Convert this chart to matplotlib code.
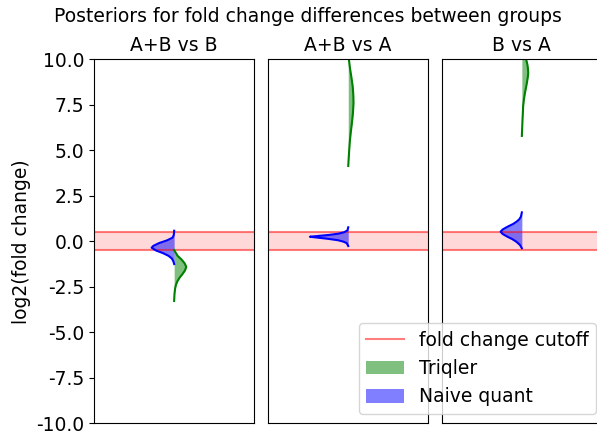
import matplotlib
matplotlib.use("Agg")
import matplotlib.pyplot as plt
import matplotlib.patches as mpatches
from matplotlib.lines import Line2D

plt.rcParams['axes.unicode_minus'] = False
plt.rcParams['font.size'] = 13.5

titles = ['A+B vs B', 'A+B vs A', 'B vs A']
cutoff = 0.5

# posterior densities: (log2 fold change, density)
triqler_y = [
    [-0.48, -0.6, -0.8, -1.0, -1.2, -1.4, -1.6, -1.8, -2.0, -2.2, -2.4, -2.6, -2.9, -3.28],
    [4.14, 4.6, 5.0, 5.5, 6.0, 6.5, 7.0, 7.58, 8.0, 8.5, 9.0, 9.5, 10.0, 10.3],
    [5.79, 6.2, 6.66, 7.0, 7.4, 7.8, 8.13, 8.4, 8.68, 9.0, 9.23, 9.5, 9.7, 10.0, 10.3],
]
triqler_dens = [
    [0.0, 0.08, 0.22, 0.46, 0.65, 0.76, 0.68, 0.52, 0.34, 0.2, 0.11, 0.06, 0.02, 0.0],
    [0.0, 0.03, 0.06, 0.1, 0.16, 0.23, 0.29, 0.33, 0.32, 0.28, 0.2, 0.11, 0.04, 0.0],
    [0.0, 0.02, 0.04, 0.06, 0.08, 0.13, 0.19, 0.25, 0.31, 0.37, 0.40, 0.38, 0.35, 0.27, 0.18],
]
naive_y = [
    [0.58, 0.35, 0.2, 0.05, -0.1, -0.25, -0.35, -0.5, -0.65, -0.8, -0.95, -1.1, -1.25],
    [0.77, 0.6, 0.5, 0.42, 0.35, 0.3, 0.25, 0.2, 0.14, 0.06, -0.02, -0.1, -0.26],
    [1.59, 1.35, 1.2, 1.08, 0.95, 0.8, 0.65, 0.53, 0.4, 0.25, 0.12, -0.02, -0.2, -0.38],
]
naive_dens = [
    [0.0, 0.02, 0.1, 0.45, 0.95, 1.3, 1.41, 1.15, 0.7, 0.35, 0.14, 0.05, 0.0],
    [0.0, 0.05, 0.25, 0.6, 1.2, 1.8, 2.4, 1.9, 1.3, 0.65, 0.3, 0.1, 0.0],
    [0.0, 0.06, 0.17, 0.33, 0.55, 0.9, 1.2, 1.33, 1.2, 0.9, 0.6, 0.35, 0.12, 0.0],
]
yticks = [-10.0, -7.5, -5.0, -2.5, 0.0, 2.5, 5.0, 7.5, 10.0]

W, H = 597, 433
fig = plt.figure(figsize=(W / 100, H / 100), dpi=100)
lefts = [94.3, 268.4, 442.0]
axw = 159.7
bottom = (H - 423.3) / H
height = (423.3 - 59.3) / H

axes = []
for i in range(3):
    ax = fig.add_axes([lefts[i] / W, bottom, axw / W, height])
    axes.append(ax)
    ax.axhspan(-cutoff, cutoff, color='red', alpha=0.15, lw=0)
    ax.axhline(cutoff, color='red', alpha=0.5, lw=1.5)
    ax.axhline(-cutoff, color='red', alpha=0.5, lw=1.5)

    ty, td = triqler_y[i], triqler_dens[i]
    ax.fill_betweenx(ty, 0, td, color='green', alpha=0.5, lw=0)
    ax.plot(td, ty, color='green', lw=1.5)

    ny, nd = naive_y[i], [-d for d in naive_dens[i]]
    ax.fill_betweenx(ny, 0, nd, color='blue', alpha=0.5, lw=0)
    ax.plot(nd, ny, color='blue', lw=1.5)

    ax.set_xlim(-5, 5)
    ax.set_ylim(-10, 10)
    ax.set_xticks([])
    ax.set_title(titles[i], fontsize=13.5)
    if i == 0:
        ax.set_yticks(yticks)
        ax.set_yticklabels(['%.1f' % v for v in yticks])
        ax.set_ylabel('log2(fold change)')
    else:
        ax.set_yticks([])

# the original title sits centred over the (wider) full figure
fig.suptitle('Posteriors for fold change differences between groups', fontsize=13.5,
             x=307.5 / W, y=1 - 17 / H, va='center')

handles = [Line2D([0], [0], color='red', alpha=0.5, lw=1.5),
           mpatches.Patch(color='green', alpha=0.5, lw=0),
           mpatches.Patch(color='blue', alpha=0.5, lw=0)]
fig.legend(handles, ['fold change cutoff', 'Triqler', 'Naive quant'],
           loc='lower right', bbox_to_anchor=(596 / W, (H - 414) / H),
           borderaxespad=0, fontsize=13.5)

fig.savefig('out.png', dpi=100)
